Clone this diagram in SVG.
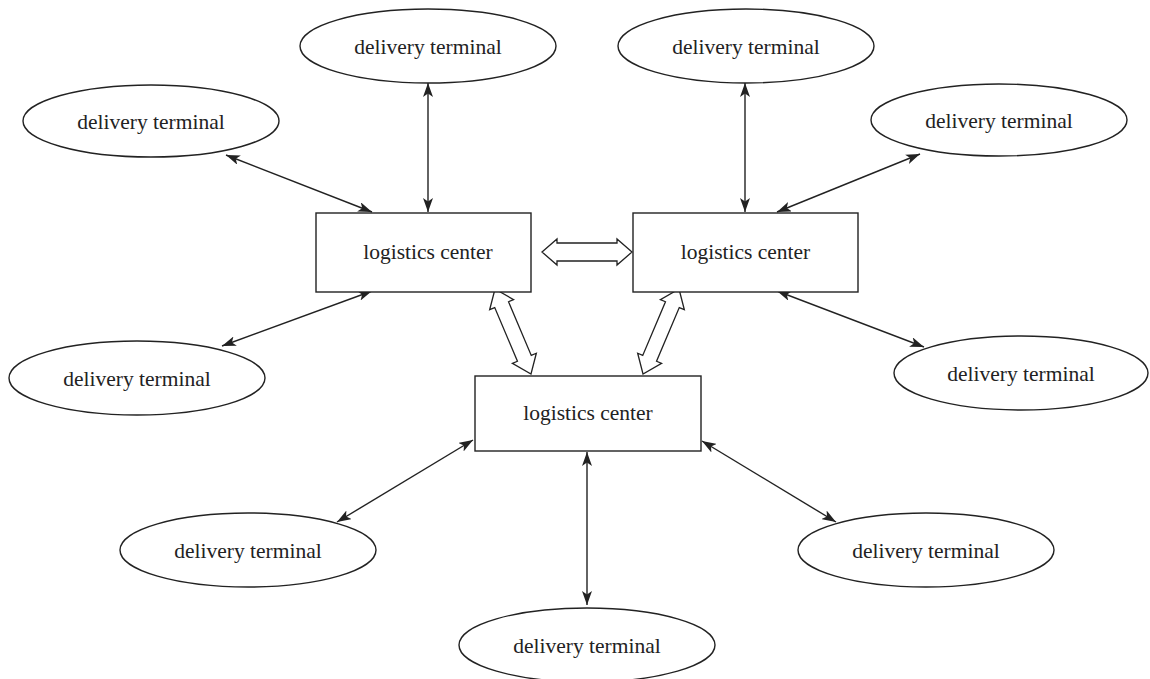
<svg xmlns="http://www.w3.org/2000/svg" width="1150" height="679" viewBox="0 0 1150 679">
<defs>
<style>
.n{fill:#fff;stroke:#222;stroke-width:1.4}
.t{font-family:"Liberation Serif","Times New Roman",serif;font-size:21.5px;fill:#222;text-anchor:middle}
.c{stroke:#222;stroke-width:1.4;fill:none;marker-start:url(#ah);marker-end:url(#ah)}
.h{fill:#fff;stroke:#222;stroke-width:1.3;stroke-linejoin:miter}
</style>
<marker id="ah" viewBox="0 0 14 10" refX="14" refY="5" markerWidth="14" markerHeight="10" markerUnits="userSpaceOnUse" orient="auto-start-reverse">
<path d="M0,0 L14,5 L0,10 L3.5,5 z" fill="#222"/>
</marker>
</defs>
<rect width="1150" height="679" fill="#fff"/>
<g id="connectors">
<line class="c" x1="226" y1="155" x2="372" y2="212"/>
<line class="c" x1="428" y1="83" x2="428" y2="212"/>
<line class="c" x1="222" y1="346" x2="372" y2="291"/>
<line class="c" x1="745" y1="83" x2="745" y2="212"/>
<line class="c" x1="920" y1="154" x2="777" y2="212"/>
<line class="c" x1="924" y1="347" x2="777" y2="291"/>
<line class="c" x1="473" y1="440" x2="337" y2="522"/>
<line class="c" x1="702" y1="441" x2="836" y2="522"/>
<line class="c" x1="587" y1="452" x2="587" y2="605"/>
<polygon class="h" transform="translate(542,252)" points="0,0 15,-13 15,-9 75,-9 75,-13 90,0 75,13 75,9 15,9 15,13"/>
<polygon class="h" transform="translate(495,289) rotate(67.05)" points="0,0 17,-13 17,-7.5 75.3,-7.5 75.3,-13 92.3,0 75.3,13 75.3,7.5 17,7.5 17,13"/>
<polygon class="h" transform="translate(679,289) rotate(112.95)" points="0,0 17,-13 17,-7.5 75.3,-7.5 75.3,-13 92.3,0 75.3,13 75.3,7.5 17,7.5 17,13"/>
</g>
<g id="lc1"><rect class="n" x="316" y="213" width="215" height="79"/><text class="t" x="428" y="259">logistics center</text></g>
<g id="lc2"><rect class="n" x="633" y="213" width="225" height="79"/><text class="t" x="745.5" y="259">logistics center</text></g>
<g id="lc3"><rect class="n" x="475" y="376" width="226" height="75"/><text class="t" x="588" y="420">logistics center</text></g>
<g id="dt1"><ellipse class="n" cx="151" cy="121" rx="128" ry="36"/><text class="t" x="151" y="129">delivery terminal</text></g>
<g id="dt2"><ellipse class="n" cx="428" cy="46" rx="128" ry="37"/><text class="t" x="428" y="54">delivery terminal</text></g>
<g id="dt3"><ellipse class="n" cx="746" cy="46" rx="128" ry="37"/><text class="t" x="746" y="54">delivery terminal</text></g>
<g id="dt4"><ellipse class="n" cx="999" cy="120" rx="128" ry="36"/><text class="t" x="999" y="128">delivery terminal</text></g>
<g id="dt5"><ellipse class="n" cx="137" cy="378" rx="128" ry="37"/><text class="t" x="137" y="386">delivery terminal</text></g>
<g id="dt6"><ellipse class="n" cx="1021" cy="373" rx="127" ry="37"/><text class="t" x="1021" y="381">delivery terminal</text></g>
<g id="dt7"><ellipse class="n" cx="248" cy="550" rx="128" ry="37"/><text class="t" x="248" y="558">delivery terminal</text></g>
<g id="dt8"><ellipse class="n" cx="926" cy="550" rx="128" ry="37"/><text class="t" x="926" y="558">delivery terminal</text></g>
<g id="dt9"><ellipse class="n" cx="587" cy="645" rx="128" ry="37"/><text class="t" x="587" y="653">delivery terminal</text></g>
</svg>
